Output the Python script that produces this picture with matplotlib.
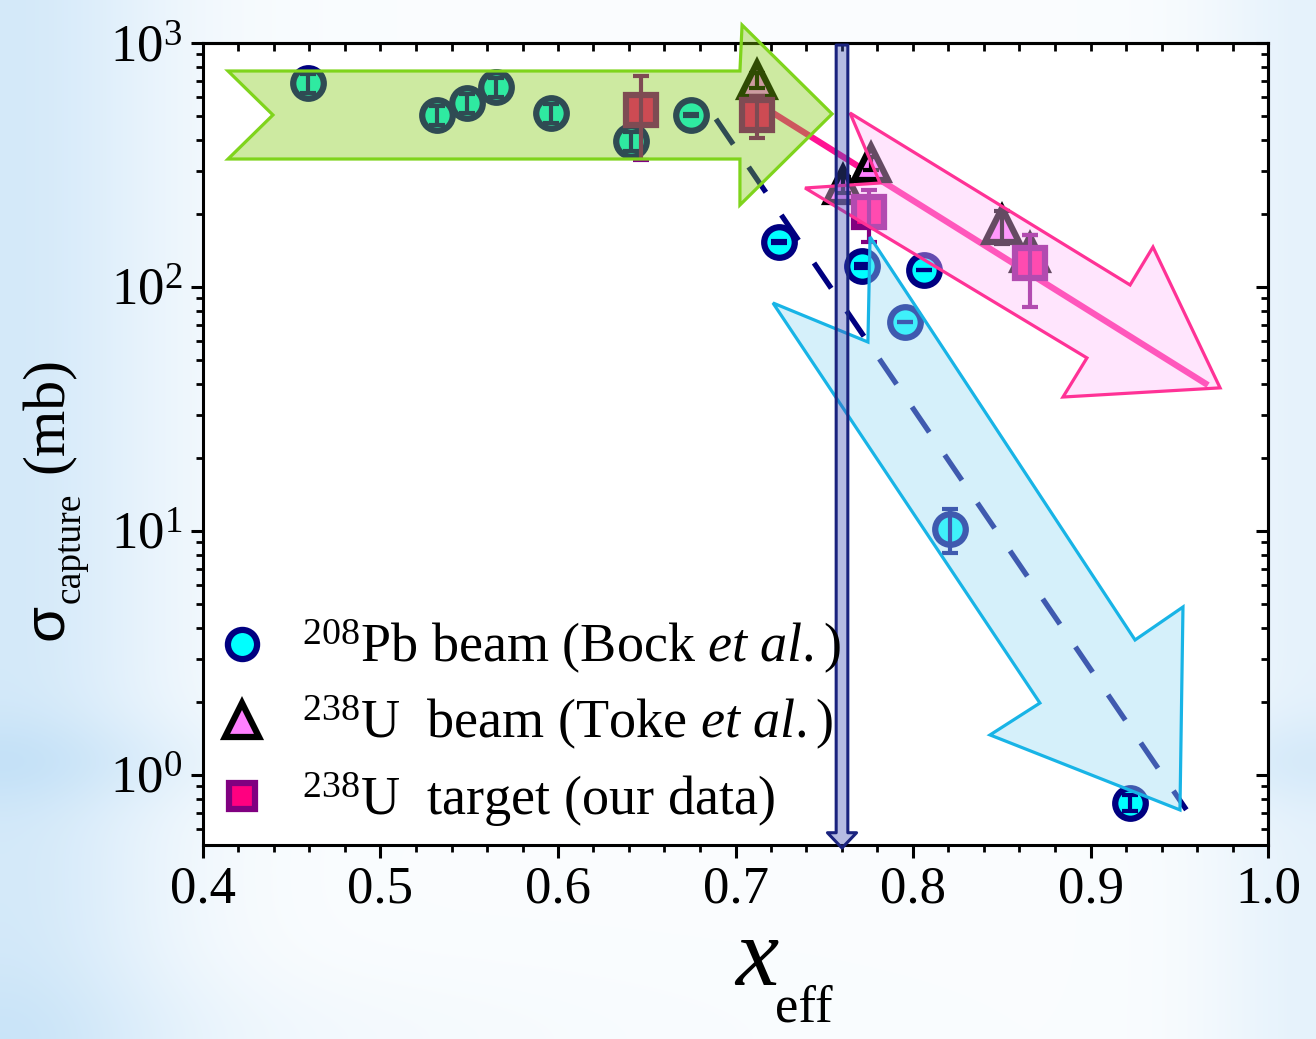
import numpy as np
import matplotlib
matplotlib.use('Agg')
import matplotlib.pyplot as plt
from matplotlib.patches import Polygon
from matplotlib.lines import Line2D
from matplotlib.ticker import MultipleLocator, LogLocator, NullFormatter, LogFormatterMathtext

plt.rcParams['font.family'] = ['Liberation Serif', 'DejaVu Serif']
plt.rcParams['mathtext.fontset'] = 'custom'
plt.rcParams['mathtext.rm'] = 'Liberation Serif'
plt.rcParams['mathtext.it'] = 'Liberation Serif:italic'
plt.rcParams['mathtext.bf'] = 'Liberation Serif:bold'

# ---------------- data ----------------
bock_x = [0.459, 0.532, 0.549, 0.565, 0.596, 0.641, 0.675, 0.7245, 0.771, 0.806, 0.7955, 0.821, 0.922]
bock_y = [686, 507, 567, 661, 516, 396, 507, 153, 122, 117, 72, 10.2, 0.77]
bock_lo = [60, 45, 50, 60, 45, 35, 4, 2, 2, 0, 0, 2.1, 0.06]
bock_hi = [60, 45, 50, 60, 45, 35, 4, 2, 2, 0, 0, 2.1, 0.06]

toke_x = [0.712, 0.7606, 0.7763, 0.850, 0.866]
toke_y = [705, 262, 322, 180, 138]
toke_lo = [50, 20, 20, 30, 25]
toke_hi = [50, 20, 20, 25, 25]

our_x = [0.647, 0.712, 0.7752, 0.866]
our_y = [531, 507, 203, 125]
our_lo = [200, 99, 50, 42]
our_hi = [202, 100, 47, 38]

fit_u_x = [0.7166, 0.9662]
fit_u_y = [542, 39.6]
fit_pb_x = [0.689, 0.954]
fit_pb_y = [488, 0.72]

x_crit = 0.760

green_arrow_x = [0.4141, 0.4394, 0.4141, 0.7025, 0.7025, 0.7544, 0.7037, 0.7025]
green_arrow_y = [767.8, 507.0, 334.6, 334.6, 216.8, 512.0, 1185.0, 767.8]
pink_arrow_x = [0.7645, 0.7814, 0.7392, 0.8980, 0.8845, 0.9730, 0.9352, 0.9223]
pink_arrow_y = [516.7, 266.8, 254.5, 51.2, 35.4, 38.6, 145.8, 101.9]
blue_arrow_x = [0.7211, 0.7746, 0.7758, 0.9251, 0.9521, 0.9504, 0.8434, 0.8715]
blue_arrow_y = [86.0, 59.5, 160.3, 3.575, 4.88, 0.719, 1.459, 1.972]

legend_labels = [r'$^{208}$Pb beam (Bock $\mathit{et\ al.}$)',
                 r'$^{238}$U  beam (Toke $\mathit{et\ al.}$)',
                 r'$^{238}$U  target (our data)']

# ---------------- figure ----------------
W, H = 1316, 1039
fig = plt.figure(figsize=(W / 100, H / 100), dpi=100)

# light-blue background wash
bg = fig.add_axes([0, 0, 1, 1], zorder=-10)
yy, xx = np.mgrid[0:H:4, 0:W:4].astype(float)
wash = (0.55 * np.exp(-(xx / 170.) ** 2) + 0.30 * np.exp(-((W - xx) / 110.) ** 2)
        + 0.22 * np.exp(-((yy - 760) / 45.) ** 2) * (np.exp(-(xx / 260.) ** 2) + np.exp(-((W - xx) / 260.) ** 2))
        + 0.15 * np.exp(-((H - yy) / 70.) ** 2) * np.exp(-(xx / 500.) ** 2) + 0.07)
wash = np.clip(wash, 0, 1)[..., None]
light_blue = np.array([186, 220, 246]) / 255.
img = np.ones(3) * (1 - wash) + light_blue * wash
bg.imshow(img, extent=[0, 1, 0, 1], aspect='auto', interpolation='bilinear', origin='upper')
bg.axis('off')

ax = fig.add_axes([203 / W, 1 - 845 / H, (1268 - 203) / W, (845 - 43) / H])
ax.set_facecolor('white')
ax.set_yscale('log')
ax.set_xlim(0.4, 1.0)
ax.set_ylim(0.5164, 1000)

# fit lines (below the transparent arrows)
ax.plot(fit_pb_x, fit_pb_y, color='#000080', lw=3.8, dashes=(5.8, 5.2), zorder=2)
ax.plot(fit_u_x, fit_u_y, color='#ff1493', lw=4.5, zorder=2, solid_capstyle='butt')

# data
ax.plot(bock_x, bock_y, 'o', ms=22, mfc='#00ffff', mec='#000080', mew=4.5, zorder=3)
ax.errorbar(bock_x, bock_y, yerr=[bock_lo, bock_hi], fmt='none', ecolor='#000080',
            elinewidth=3, capsize=6, capthick=3, zorder=3.2)
ax.plot(toke_x, toke_y, '^', ms=24, mfc='#ff80ff', mec='black', mew=4.5, zorder=3.3)
ax.errorbar(toke_x, toke_y, yerr=[toke_lo, toke_hi], fmt='none', ecolor='black',
            elinewidth=3, capsize=6, capthick=3, zorder=3.35)
ax.plot(our_x, our_y, 's', ms=21, mfc='#ff0080', mec='#800080', mew=4.5, zorder=3.5)
ax.errorbar(our_x, our_y, yerr=[our_lo, our_hi], fmt='none', ecolor='#800080',
            elinewidth=3, capsize=6, capthick=3, zorder=3.55)

# transparent trend arrows on top of the data
ax.add_patch(Polygon(list(zip(green_arrow_x, green_arrow_y)), closed=True,
                     fc=(125 / 255, 200 / 255, 10 / 255, 0.38), ec='#7fd41c', lw=2.3,
                     zorder=4, clip_on=False, joinstyle='miter'))
ax.add_patch(Polygon(list(zip(pink_arrow_x, pink_arrow_y)), closed=True,
                     fc=(255 / 255, 190 / 255, 250 / 255, 0.40), ec='#ff3296', lw=2.3,
                     zorder=4, clip_on=False, joinstyle='miter'))
ax.add_patch(Polygon(list(zip(blue_arrow_x, blue_arrow_y)), closed=True,
                     fc=(154 / 255, 219 / 255, 243 / 255, 0.415), ec='#18b4e6', lw=2.3,
                     zorder=4, clip_on=False, joinstyle='miter'))

# vertical critical-line arrow
ax.annotate('', xy=(x_crit, 0.502), xytext=(x_crit, 981),
            arrowprops=dict(arrowstyle='simple,head_length=0.55,head_width=1.05,tail_width=0.42',
                            mutation_scale=20, fc=(63 / 255, 81 / 255, 181 / 255, 0.38),
                            ec='#1a237e', lw=2.2, shrinkA=0, shrinkB=0),
            zorder=5, annotation_clip=False)

# axes styling
for sp in ax.spines.values():
    sp.set_linewidth(2.2)
ax.xaxis.set_major_locator(MultipleLocator(0.1))
ax.xaxis.set_minor_locator(MultipleLocator(0.02))
ax.yaxis.set_major_locator(LogLocator(base=10, numticks=10))
ax.yaxis.set_minor_locator(LogLocator(base=10, subs=np.arange(2, 10), numticks=20))
ax.yaxis.set_minor_formatter(NullFormatter())
ax.yaxis.set_major_formatter(LogFormatterMathtext())
ax.tick_params(which='major', direction='out', length=9, width=2.2, labelsize=38, pad=6)
ax.tick_params(which='minor', direction='out', length=5, width=2.0)
ax.xaxis.set_major_formatter(matplotlib.ticker.FormatStrFormatter('%.1f'))

sx = ax.secondary_xaxis('top')
sx.xaxis.set_major_locator(MultipleLocator(0.02))
sx.tick_params(which='major', direction='in', length=6, width=2.0, labeltop=False)
sy = ax.secondary_yaxis('right')
sy.yaxis.set_major_locator(LogLocator(base=10, numticks=10))
sy.yaxis.set_minor_locator(LogLocator(base=10, subs=np.arange(2, 10), numticks=20))
sy.yaxis.set_minor_formatter(NullFormatter())
sy.tick_params(which='major', direction='in', length=9, width=2.2, labelright=False)
sy.tick_params(which='minor', direction='in', length=5, width=2.0, labelright=False)
for s in (sx, sy):
    for sp in s.spines.values():
        sp.set_linewidth(2.2)

# axis labels
fig.text(734 / W, 1 - 985 / H, r'$x$', fontsize=70, ha='left', va='baseline')
fig.text(775 / W, 1 - 1022 / H, 'eff', fontsize=38, ha='left', va='baseline')
fig.text(62 / W, 1 - 640 / H, 'σ', fontsize=42, family=['Liberation Sans', 'DejaVu Sans'],
         rotation=90, rotation_mode='anchor', ha='left', va='baseline')
fig.text(80 / W, 1 - 603 / H, 'capture', fontsize=27, rotation=90, rotation_mode='anchor',
         ha='left', va='baseline')
fig.text(63 / W, 1 - 473 / H, '(mb)', fontsize=43, rotation=90, rotation_mode='anchor',
         ha='left', va='baseline')

# legend
handles = [Line2D([], [], ls='none', marker='o', ms=21, mfc='#00ffff', mec='#000080', mew=4.5),
           Line2D([], [], ls='none', marker='^', ms=24, mfc='#ff80ff', mec='black', mew=4.5),
           Line2D([], [], ls='none', marker='s', ms=19, mfc='#ff0080', mec='#800080', mew=4.5)]
leg = ax.legend(handles, legend_labels, loc='lower left', bbox_to_anchor=(0.0113, 0.02),
                frameon=False, fontsize=39, handlelength=1.0, handletextpad=0.6,
                labelspacing=0.33, borderpad=0, borderaxespad=0)
leg.set_zorder(6)

fig.savefig('out.png', dpi=100)
